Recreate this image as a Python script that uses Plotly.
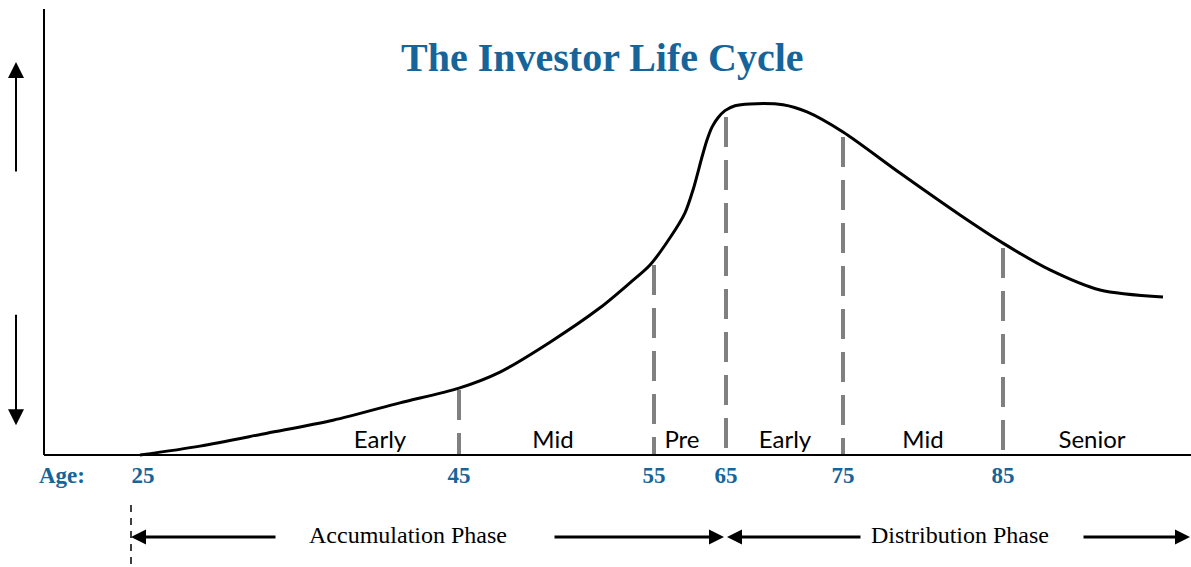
import plotly.graph_objects as go

# ---- data (chart units: x = horizontal position along the life-cycle axis, y = wealth index 0-100) ----
curve_x = [96, 156, 223, 289, 356, 415, 456, 506, 556, 586, 606, 626, 641, 649, 658, 663, 668, 674, 681, 691, 706, 739, 763, 799, 856, 916, 959, 1006, 1056, 1119]
curve_y = [0, 2.0, 4.9, 7.8, 11.7, 15.0, 18.6, 25.3, 33.0, 38.6, 42.6, 48.7, 54.3, 59.4, 66.8, 70.6, 73.5, 75.6, 77.2, 78.3, 78.7, 78.5, 76.9, 72.4, 63.2, 53.8, 47.5, 41.5, 37.0, 35.4]

ages = ["25", "45", "55", "65", "75", "85"]
age_pos = [99, 415, 610, 682, 799, 959]

divider_pos = [415, 610, 682, 799, 959]
divider_top = [14.6, 42.6, 75.8, 71.3, 46.4]

stages = ["Early", "Mid", "Pre", "Early", "Mid", "Senior"]
stage_pos = [336, 509, 638, 741, 879, 1048]

phases = ["Accumulation Phase", "Distribution Phase"]
phase_pos = [364, 916]

title = "The Investor Life Cycle"
BLUE = "#16659a"

fig = go.Figure()

# main curve
fig.add_trace(go.Scatter(x=curve_x, y=curve_y, mode="lines",
                         line=dict(color="black", width=3, shape="spline", smoothing=0.8),
                         hoverinfo="skip", showlegend=False))

# dashed dividers (drawn top-down so the dash pattern starts at the curve)
for xp, yt in zip(divider_pos, divider_top):
    fig.add_trace(go.Scatter(x=[xp, xp], y=[yt, 0], mode="lines",
                             line=dict(color="#808080", width=4, dash="30px,13px"),
                             hoverinfo="skip", showlegend=False))

# stage labels
fig.add_trace(go.Scatter(x=stage_pos, y=[2.9] * len(stages), mode="text", text=stages,
                         textfont=dict(family="Lato", size=24, color="black"),
                         hoverinfo="skip", showlegend=False))

# age labels
fig.add_trace(go.Scatter(x=age_pos + [18], y=[-4.9] * (len(ages) + 1), mode="text",
                         text=ages + ["Age:"],
                         textfont=dict(family="Liberation Serif", size=23, color=BLUE, weight="bold"),
                         hoverinfo="skip", showlegend=False))

# phase labels
fig.add_trace(go.Scatter(x=phase_pos, y=[-18.4] * 2, mode="text", text=phases,
                         textfont=dict(family="Liberation Serif", size=24, color="black"),
                         hoverinfo="skip", showlegend=False))

# axes lines
fig.add_shape(type="line", x0=0, x1=1147, y0=0, y1=0, line=dict(color="black", width=2))
fig.add_shape(type="line", x0=0, x1=0, y0=0, y1=100, line=dict(color="black", width=2))
# dashed start marker below axis
fig.add_shape(type="line", x0=87, x1=87, y0=-11.2, y1=-25.1,
              line=dict(color="black", width=1.5, dash="7px,6px"))

# arrows: (tip_x, tip_y, tail_x, tail_y, width, size)
arrows = [
    (-28, 88.1, -28, 63.2, 2, 1.6),
    (-28, 6.7, -28, 31.8, 2, 1.6),
    (87, -18.4, 233, -18.4, 3, 1.0),
    (680, -18.4, 509, -18.4, 3, 1.0),
    (683, -18.4, 818, -18.4, 3, 1.0),
    (1146, -18.4, 1038, -18.4, 3, 1.0),
]
for tx, ty, sx, sy, w, s in arrows:
    fig.add_annotation(x=tx, y=ty, ax=sx, ay=sy, xref="x", yref="y", axref="x", ayref="y",
                       showarrow=True, arrowhead=2, arrowwidth=w, arrowsize=s,
                       arrowcolor="black", text="")

fig.add_annotation(x=558, y=89.0, xref="x", yref="y", text=title, showarrow=False,
                   font=dict(family="Liberation Serif", size=40, color=BLUE, weight="bold"))

fig.update_layout(width=1191, height=567, margin=dict(l=0, r=0, t=0, b=0),
                  plot_bgcolor="white", paper_bgcolor="white",
                  xaxis=dict(range=[-44, 1147], visible=False, fixedrange=True),
                  yaxis=dict(range=[-25.1, 102.0], visible=False, fixedrange=True),
                  hovermode=False)

fig.write_html("out.html", config={"displayModeBar": False},
               post_script="document.body.style.margin='0';")
